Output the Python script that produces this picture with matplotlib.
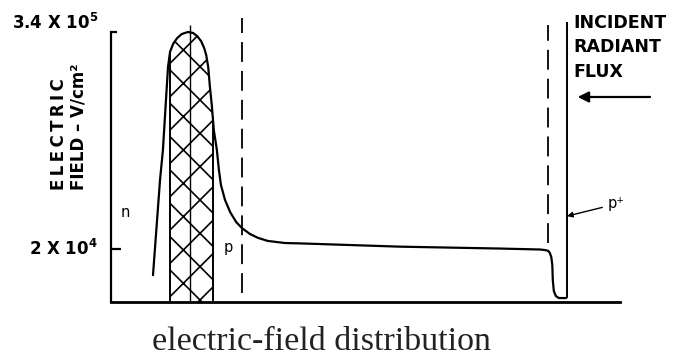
import numpy as np
import matplotlib
matplotlib.use('Agg')
import matplotlib.pyplot as plt

# position across the detector (arbitrary depth units) and field in V/cm^2
depth = [8.25, 9.63, 10.2, 10.8, 11.2, 11.6, 12.2, 13.0, 13.9, 15.1, 16.1, 16.9, 17.7,
         18.3, 18.7, 19.1, 19.4, 19.8, 20.2, 20.8, 21.2, 21.6, 22.4, 23.4, 24.6,
         25.7, 27.3, 28.9, 30.8, 34.2, 37.1, 56.8, 76.4, 84.3, 85.3, 85.9, 86.2,
         86.5, 86.7, 86.8, 87.0, 87.4, 88.0, 89.4]
field = [1.42e4, 4.92e4, 7.28e4, 1.40e5, 2.15e5, 2.62e5, 2.91e5, 3.14e5, 3.31e5, 3.40e5, 3.36e5, 3.23e5, 3.02e5,
         2.76e5, 2.52e5, 2.15e5, 1.70e5, 1.31e5, 9.45e4, 7.28e4, 5.61e4, 4.61e4, 3.79e4, 3.24e4, 2.84e4,
         2.63e4, 2.43e4, 2.31e4, 2.22e4, 2.16e4, 2.15e4, 2.06e4, 2.01e4, 1.985e4, 1.97e4, 1.95e4, 1.90e4,
         1.80e4, 1.62e4, 1.33e4, 1.155e4, 1.08e4, 1.053e4, 1.053e4]

tick_vals = [2e4, 3.4e5]
tick_labels = [r'2 X 10$^{\mathbf{4}}$', r'3.4 X 10$^{\mathbf{5}}$']

# region boundaries
depletion = (11.6, 20.0)      # cross-hatched region
depletion_mid = 15.5
junctions = [25.7, 85.9]      # dashed lines
junction_tops = [4.08e5, 3.73e5]
junction_bottoms = [1.125e4, 2.16e4]
surface = 89.6                # solid line at the illuminated surface

fig = plt.figure(figsize=(6.73, 3.58), dpi=100)
ax = fig.add_axes([111 / 673, 56 / 358, 509 / 673, 270 / 358])
ax.set_yscale('log')
ax.set_xlim(0, 100)
ax.set_ylim(1e4, 3.4e5)

for s in ['top', 'right']:
    ax.spines[s].set_visible(False)
ax.spines['left'].set_linewidth(1.6)
ax.spines['bottom'].set_linewidth(2.0)
ax.set_xticks([])
ax.set_yticks([2e4], labels=[''])
ax.set_yticks([3.4e5], labels=[''], minor=True)
ax.tick_params(axis='y', which='major', direction='in', length=7, width=1.6)
ax.tick_params(axis='y', which='minor', direction='in', length=4, width=1.6)
ax.yaxis.set_minor_formatter(plt.NullFormatter())

lab_font = dict(fontfamily='DejaVu Sans', fontweight='bold', fontsize=12)
ax.annotate(tick_labels[0], xy=(0, tick_vals[0]), xycoords=('axes fraction', 'data'),
            xytext=(-9.4, 0), textcoords='offset points', ha='right', va='center', **lab_font)
ax.annotate(tick_labels[1], xy=(0, tick_vals[1]), xycoords=('axes fraction', 'data'),
            xytext=(-9.4, 6.5), textcoords='offset points', ha='right', va='center',
            annotation_clip=False, **lab_font)

ylab = '\u2009'.join('ELECTRIC') + '\nFIELD – V/cm²'
ax.text(-0.083, 0.415, ylab, transform=ax.transAxes, rotation=90,
        ha='center', va='bottom', multialignment='left', linespacing=1.1, **lab_font)

# field profile
depth = np.array(depth)
field = np.array(field)
ax.plot(depth, field, color='black', lw=1.6, clip_on=False,
        solid_joinstyle='round', solid_capstyle='round')

# hatched depletion region under the peak
inside = (depth > depletion[0]) & (depth < depletion[1])
hx = np.concatenate([[depletion[0]], depth[inside], [depletion[1]]])
hy = np.concatenate([[np.interp(depletion[0], depth, field)], field[inside],
                     [np.interp(depletion[1], depth, field)]])
plt.rcParams['hatch.linewidth'] = 1.2
ax.fill_between(hx, 1e4, hy, facecolor='white', edgecolor='black', hatch='x', lw=0)
ax.vlines(depletion, 1e4, [np.interp(d, depth, field) for d in depletion], color='black', lw=1.4)
ax.vlines(depletion_mid, 1e4, 3.73e5, color='black', lw=1.0, clip_on=False)

# junctions and surface
ax.vlines(junctions, junction_bottoms, junction_tops, color='black', lw=1.3,
          linestyles=(0, (11, 5)), clip_on=False)
ax.vlines(surface, 1.053e4, 3.87e5, color='black', lw=1.4, clip_on=False)

txt = dict(fontfamily='DejaVu Sans', fontsize=10.5)
ax.text(2.75, 3.2e4, 'n', ha='center', va='center', **txt)
ax.text(23.0, 2.05e4, 'p', ha='center', va='center', **txt)
ax.annotate('p⁺', xy=(surface, 3.07e4), xytext=(97.6, 3.6e4), ha='left', va='center',
            arrowprops=dict(arrowstyle='-|>', lw=1.0, mutation_scale=8, color='black',
                            shrinkA=2, shrinkB=0),
            annotation_clip=False, **txt)

ax.text(90.8, 4.3e5, 'INCIDENT\nRADIANT\nFLUX', ha='left', va='top', linespacing=1.45,
        fontfamily='DejaVu Sans', fontweight='bold', fontsize=12.5, clip_on=False)
ax.annotate('', xy=(91.7, 1.455e5), xytext=(105.9, 1.455e5),
            arrowprops=dict(arrowstyle='-|>', lw=1.6, mutation_scale=16, color='black',
                            shrinkA=0, shrinkB=0),
            annotation_clip=False)

fig.text(321 / 673, 8 / 358, 'electric-field distribution', ha='center', va='baseline',
         fontfamily='Liberation Serif', fontsize=24.5, color='#222222')

fig.savefig('out.png', dpi=100)
